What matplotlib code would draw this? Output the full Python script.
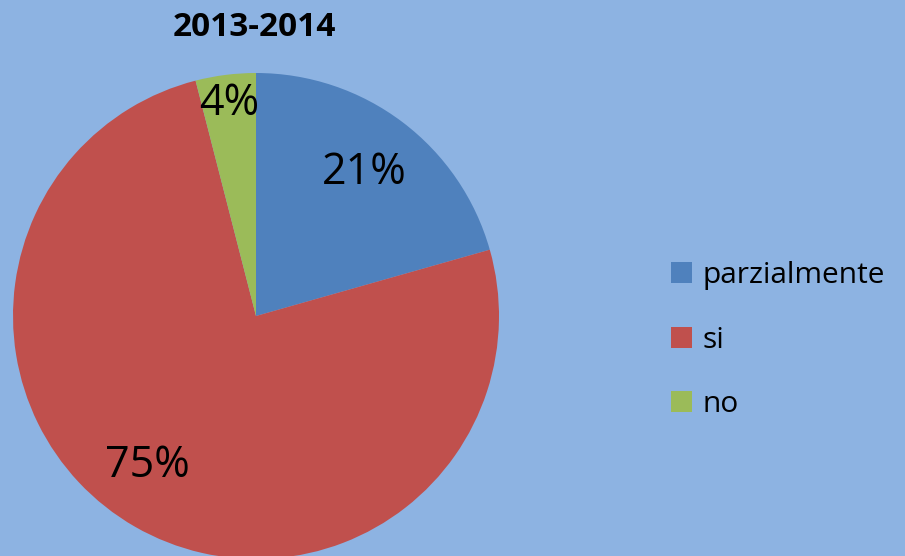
import numpy as np
import matplotlib.pyplot as plt
from matplotlib.patches import Patch

labels = ['parzialmente', 'si', 'no']
values = [20.6, 75.4, 4.0]
colors = ['#4F81BD', '#C0504D', '#9BBB59']
title = '2013-2014'

bg = '#8DB3E2'
plt.rcParams['font.family'] = ['Open Sans', 'DejaVu Sans']

fig = plt.figure(figsize=(9.05, 5.56), dpi=100, facecolor=bg)
ax = fig.add_axes([13 / 905, -3 / 556, 486 / 905, 486 / 556])
ax.set_facecolor(bg)

wedges, texts, autotexts = ax.pie(
    values, colors=colors, startangle=90, counterclock=False,
    autopct='%.0f%%', pctdistance=0.74,
    wedgeprops=dict(linewidth=0),
    textprops=dict(fontsize=31, color='black'))

# move labels like the original (small slice label sits near the rim)
dists = [0.74, 0.76, 0.88]
for w, t, d in zip(wedges, autotexts, dists):
    ang = np.deg2rad((w.theta1 + w.theta2) / 2)
    if w is wedges[1]:
        ang = np.deg2rad((w.theta1 + w.theta2) / 2 - 6)
    t.set_position((d * np.cos(ang), d * np.sin(ang)))

for w in wedges:
    w.set_clip_on(False)
ax.set_xlim(-1, 1)
ax.set_ylim(-1, 1)
ax.set_aspect('equal')
ax.axis('off')

fig.text(254 / 905, 1 - 27 / 556, title, ha='center', va='center',
         fontsize=24, fontweight='bold')

handles = [Patch(facecolor=c, edgecolor='none') for c in colors]
fig.legend(handles, labels, loc='center left',
           bbox_to_anchor=(671 / 905, 1 - 340 / 556), frameon=False,
           fontsize=21.5, handlelength=0.7, handleheight=0.7,
           handletextpad=0.35, labelspacing=1.2, borderaxespad=0,
           borderpad=0)

fig.savefig('out.png', dpi=100, facecolor=bg)
